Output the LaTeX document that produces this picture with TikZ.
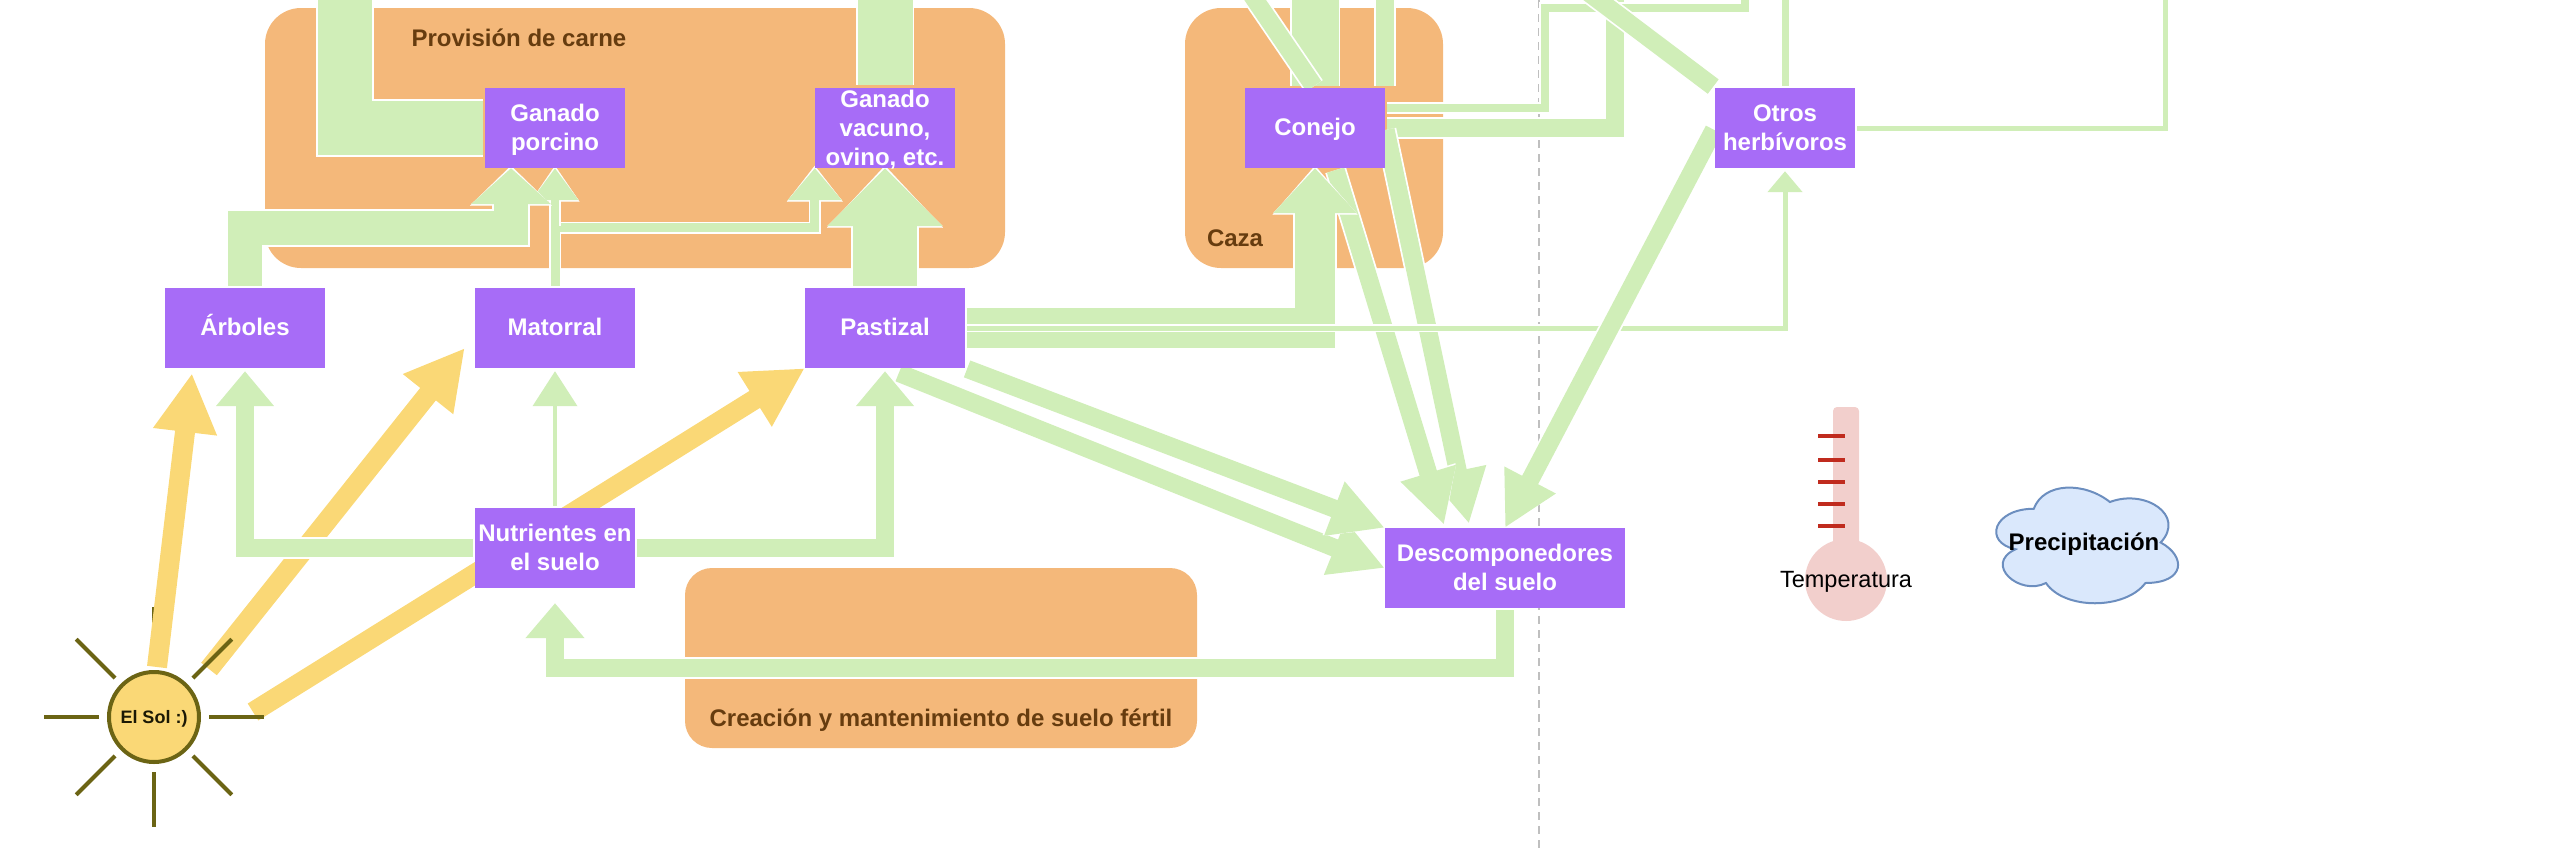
\documentclass[tikz,border=0pt]{standalone}
\usepackage{fontspec}
\setmainfont{Liberation Sans}
\usetikzlibrary{arrows.meta,calc}
\definecolor{morado}{HTML}{A76CF7}
\definecolor{naranja}{HTML}{F4B87A}
\definecolor{verdeflujo}{HTML}{D0EEB8}
\definecolor{amarillo}{HTML}{FAD876}
\definecolor{oliva}{HTML}{6B6414}
\definecolor{marron}{HTML}{663C0F}
\definecolor{rosado}{HTML}{F2CFCC}
\definecolor{rojizo}{HTML}{C02B1E}
\definecolor{nube}{HTML}{DAE8FC}
\definecolor{bordenube}{HTML}{6C8EBF}
\pgfdeclarelayer{fondo}
\pgfsetlayers{fondo,main}
\newcommand{\puntal}{\rule[-7.5pt]{0pt}{29pt}}
\newcommand{\baja}[1]{\rule{0pt}{#1pt}}
\tikzset{
    caja/.style={rectangle, fill=morado, text=white, align=center, inner ysep=-10pt, inner xsep=0pt,
        minimum width=160pt, minimum height=80pt, font=\fontsize{24}{29}\selectfont\bfseries,
        execute at begin node=\puntal, execute at end node=\puntal},
    servicio/.style={rectangle, fill=naranja},
    rotulo/.style={text=marron, font=\fontsize{24}{29}\selectfont\bfseries},
    flujo/.style={line width=#1pt, draw=verdeflujo, shorten <=2pt,
        preaction={draw=white, line width=#1pt+3.5pt}},
    punta/.style 2 args={shorten >=-2.5pt,
        -{Triangle[length=#1pt, width=#2pt, sep=2.5pt, fill=verdeflujo]},
        preaction={draw=white, line width=0.1pt,
            -{Triangle[length=#1pt+4pt, width=#2pt+4pt, fill=white]}}},
    solar/.style={line width=20pt, draw=amarillo, -{Triangle[length=59pt, width=60pt]}},
    rayo/.style={line width=4pt, draw=oliva},
}
\begin{document}
\begin{tikzpicture}[x=1pt, y=-1pt]
    \useasboundingbox (0, 0) rectangle (2574, 852);
    \clip (0, 0) rectangle (2574, 852);
    % nodos
    \node[caja, minimum width=140pt] (porcino) at (555, 128) {\baja{24}Ganado\\porcino};
    \node[caja, minimum width=140pt] (vacuno) at (885, 128) {\baja{25}Ganado\\vacuno,\\ovino, etc.};
    \node[caja, minimum width=140pt] (conejo) at (1315, 128) {Conejo};
    \node[caja, minimum width=140pt] (otros) at (1785, 128) {\baja{24}Otros\\herbívoros};
    \node[caja] (arboles) at (245, 328) {Árboles};
    \node[caja] (matorral) at (555, 328) {Matorral};
    \node[caja] (pastizal) at (885, 328) {Pastizal};
    \node[caja] (nutrientes) at (555, 548) {\baja{24}Nutrientes en\\el suelo};
    \node[caja, minimum width=240pt] (desc) at (1505, 568) {\baja{24}Descomponedores\\del suelo};
    \node[circle, draw=oliva, fill=amarillo, line width=4pt, minimum size=90pt, inner sep=0pt,
        text height=13pt, text depth=0pt,
        text=black!75!oliva, font=\fontsize{18}{20}\selectfont\bfseries] (sol) at (154, 717) {El Sol :)};
    \foreach \ang in {0, 45, 135, 180, 225, 315}
        \draw[rayo] (sol.center) ++(\ang:55) -- ++(\ang:55);
    \draw[rayo] (sol.center) ++(90:55) -- ++(90:55);
    \begin{pgfonlayer}{fondo}
        % servicios
        \fill[servicio, rounded corners=36pt] (265, 8) rectangle (1005, 268);
        \fill[servicio, rounded corners=36pt] (1185, 8) rectangle (1443, 268);
        \fill[servicio, rounded corners=27pt] (685, 568) rectangle (1197, 748);
        \draw[line width=2pt, draw=black!25, dash pattern=on 8pt off 6pt] (1539, 0) -- (1539, 852);
        \draw[rayo] (sol.center) ++(270:55) -- ++(270:55);
        % energia
        \draw[solar] ($(sol)+(3,-50)$) -- ($(arboles.south)+(-53,5)$);
        \draw[solar] ($(sol)+(55,-48)$) -- ($(matorral.west)+(-10,20)$);
        \draw[solar] ($(sol)+(99,-5)$) -- (pastizal.south west);
        % flujos hacia el ganado
        \draw[flujo=9, punta={32}{52}] (matorral.north) -- ++(0, -60) -| (vacuno.south west);
        \draw[flujo=8, punta={32}{45}, shorten <=62pt] (matorral.north) -- (porcino.south);
        \draw[flujo=34, punta={36}{78}] (arboles.north) -- ++(0, -60) -| ($(porcino.south)+(-44,0)$);
        \draw[flujo=54] (porcino.west) -- ++(-140, 0) -- ++(0, -150);
        \draw[flujo=64, punta={58}{112}] (pastizal.north) -- (vacuno.south);
        \draw[flujo=55, shorten <=3pt] (vacuno.north) -- ++(0, -100);
        % nutrientes
        \draw[flujo=18, punta={35}{56}, shorten >=0.5pt] (nutrientes.west) -| (arboles.south);
        \draw[flujo=4, punta={35}{44}, shorten >=0.5pt] (nutrientes.north) -- (matorral.south);
        \draw[flujo=18, punta={35}{56}, shorten >=0.5pt] (nutrientes.east) -| (pastizal.south);
        \draw[flujo=18, punta={35}{57}, shorten >=12.5pt] (desc.south) -- ++(0, 60) -| (nutrientes.south);
        % hacia descomponedores
        \draw[flujo=18, punta={54}{54}] ($(pastizal.south)+(12,4)$) -- (desc.west);
        \draw[flujo=18, punta={54}{54}] (pastizal.south east) -- (desc.north west);
        \draw[flujo=18] (conejo.east) -- ++(230, 0) -- ++(0, -150);
        \draw[flujo=18, punta={54}{54}] (conejo.east) -- ($(desc.north)+(-36,-4)$);
        \draw[flujo=8] ($(conejo.east)+(0,-20)$) -- ++(160, 0) -- ++(0, -100) -- ++(200, 0) -- ++(0, -30);
        \draw[flujo=18, punta={54}{54}] ($(conejo.south)+(20,0)$) -- ($(desc.north)+(-61,-3)$);
        \draw[flujo=40, punta={45}{81}] (pastizal.east) -| (conejo.south);
        \draw[flujo=5, punta={21}{34}, shorten >=0.5pt] (pastizal.east) -| (otros.south);
        \draw[flujo=18, punta={54}{54}] (otros.west) -- (desc.north);
        % salidas por arriba
        \draw[flujo=47] (conejo.north) -- ++(0, -100);
        \draw[flujo=18] (conejo.north east) -- ++(0, -100);
        \draw[flujo=18] (conejo.north) -- ++(-75, -110);
        \draw[flujo=7] (otros.north) -- ++(0, -100);
        \draw[flujo=5] (otros.east) -- ++(310, 0) -- ++(0, -150);
        \draw[flujo=18] (otros.north west) -- ++(-138, -104);
    \end{pgfonlayer}
    % etiquetas
    \node[rotulo, anchor=west] (carne) at (408, 38) {Provisión de carne};
    \node[rotulo] (caza) at (1235, 238) {Caza};
    \node[rotulo] (suelo) at (941, 720) {Creación y mantenimiento de suelo fértil};
    % termometro
    \fill[rosado, rounded corners=4pt] (1833, 407) rectangle (1859, 560);
    \node[circle, fill=rosado, minimum size=82pt, inner sep=0pt] (bulbo) at (1846, 580) {};
    \foreach \y in {436, 460, 482, 504, 526}
        \draw[line width=4pt, draw=rojizo] (1818, \y) -- (1845, \y);
    \node[text=black, font=\fontsize{23.5}{26}\selectfont] (temp) at ($(bulbo)+(0,2)$) {Temperatura};
    % nube
    \begin{scope}[shift={(1983, 475)}, x=203pt, y=-135pt]
        \draw[line width=2pt, draw=bordenube, fill=nube]
            (0.25, 0.25) .. controls (0.05, 0.25) and (0, 0.5) .. (0.16, 0.55)
            .. controls (0, 0.66) and (0.18, 0.9) .. (0.31, 0.8)
            .. controls (0.4, 1) and (0.7, 1) .. (0.8, 0.8)
            .. controls (1, 0.8) and (1, 0.6) .. (0.875, 0.5)
            .. controls (1, 0.3) and (0.8, 0.1) .. (0.625, 0.2)
            .. controls (0.5, 0.05) and (0.3, 0.05) .. (0.25, 0.25) -- cycle;
    \end{scope}
    \node[text=black, font=\fontsize{24}{29}\selectfont\bfseries] (lluvia) at (2084, 544) {Precipitación};
\end{tikzpicture}
\end{document}
